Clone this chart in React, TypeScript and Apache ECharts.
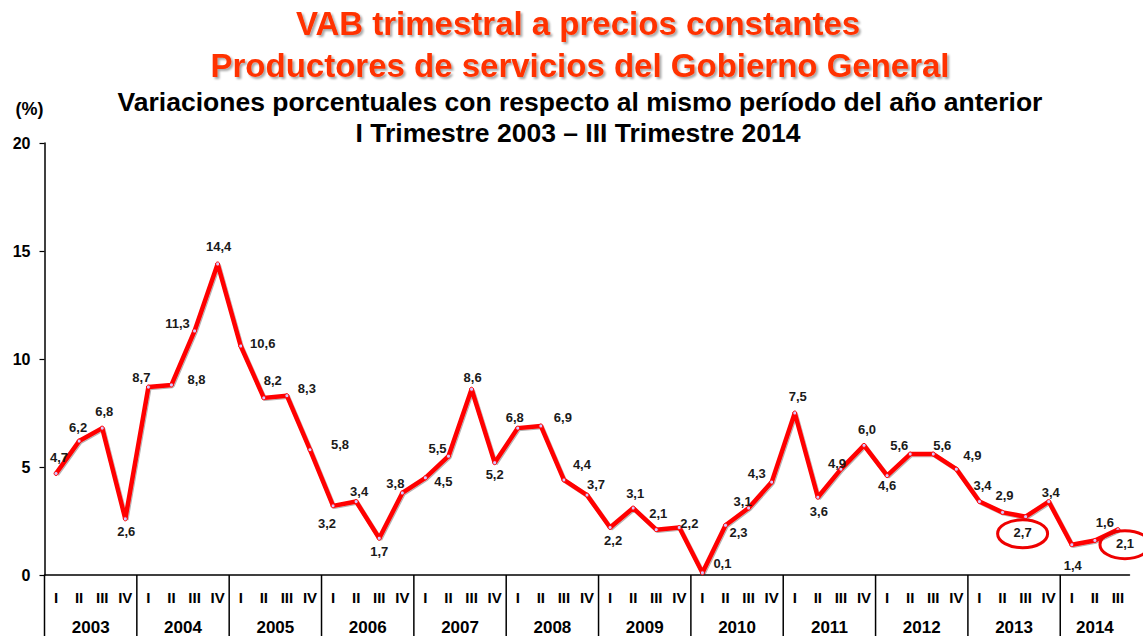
import React, { useEffect, useRef } from "react";
import * as echarts from "echarts";

const years = ["2003", "2004", "2005", "2006", "2007", "2008", "2009", "2010", "2011", "2012", "2013", "2014"];
const quarterNames = ["I", "II", "III", "IV"];
const values = [
  4.7, 6.2, 6.8, 2.6,
  8.7, 8.8, 11.3, 14.4,
  10.6, 8.2, 8.3, 5.8,
  3.2, 3.4, 1.7, 3.8,
  4.5, 5.5, 8.6, 5.2,
  6.8, 6.9, 4.4, 3.7,
  2.2, 3.1, 2.1, 2.2,
  0.1, 2.3, 3.1, 4.3,
  7.5, 3.6, 4.9, 6.0,
  4.6, 5.6, 5.6, 4.9,
  3.4, 2.9, 2.7, 3.4,
  1.4, 1.6, 2.1,
];
const yTicks = [0, 5, 10, 15, 20];
const highlighted = [42, 46];

// label offsets (style only): [dx, dy] of label centre from point
const labelOffsets: [number, number][] = [
  [3, -16], [-1, -14], [2, -17], [1, 13],
  [-7, -10], [25, -5], [-17, -7], [1, -17],
  [22, -3], [9, -17], [20, -7], [30, -5],
  [-6, 18], [3, -10], [0, 13], [-7, -9],
  [18, 4], [-11, -8], [1, -12], [0, 12],
  [-3, -11], [22, -8], [18, -15], [9, -11],
  [3, 13], [2, -15], [2, -16], [10, -4],
  [20, -9], [13, 7], [-6, -7], [-15, -9],
  [3, -17], [1, 14], [-4, -6], [3, -16],
  [0, 10], [-11, -9], [9, -9], [16, -14],
  [3, -16], [2, -17], [-3, 16], [2, -9],
  [1, 21], [10, -18], [7, 14],
];

const FONT = "Arial, 'Liberation Sans', sans-serif";
const fmt = (v: number) => v.toFixed(1).replace(".", ",");

export default function App() {
  const ref = useRef<HTMLDivElement>(null);
  useEffect(() => {
    document.body.style.margin = "0";
    if (!ref.current) return;
    const chart = echarts.init(ref.current, undefined, { renderer: "svg" });
    const categories = values.map((_, i) => quarterNames[i % 4]);
    const option: any = {
      animation: false,
      backgroundColor: "#ffffff",
      grid: { left: 44.5, right: 13.5, top: 143, bottom: 61, containLabel: false },
      xAxis: {
        type: "category",
        data: categories,
        boundaryGap: true,
        axisLine: { lineStyle: { color: "#000", width: 1.5 } },
        axisTick: { inside: true, length: 5, interval: 0, lineStyle: { color: "#000", width: 1.2 } },
        axisLabel: { interval: 0, margin: 15, color: "#000", fontFamily: FONT, fontSize: 15, fontWeight: "bold" },
        splitLine: { show: false },
      },
      yAxis: {
        type: "value",
        min: yTicks[0],
        max: yTicks[yTicks.length - 1],
        interval: yTicks[1] - yTicks[0],
        name: "(%)",
        nameLocation: "end",
        nameGap: 25,
        nameTextStyle: { color: "#000", fontFamily: FONT, fontSize: 18, fontWeight: "bold", align: "right", padding: [0, 1, 0, 0] },
        axisLine: { show: true, lineStyle: { color: "#000", width: 1.5 } },
        axisTick: { show: true, inside: false, length: 5, lineStyle: { color: "#000", width: 1.2 } },
        axisLabel: { margin: 14, color: "#000", fontFamily: FONT, fontSize: 16, fontWeight: "bold" },
        splitLine: { show: false },
      },
      series: [
        {
          type: "line",
          data: values.map((v, i) => ({
            value: v,
            label: {
              show: true,
              position: "inside",
              offset: labelOffsets[i],
              formatter: fmt(v),
            },
          })),
          lineStyle: { color: "#ff0000", width: 4.5, shadowColor: "rgba(0,0,0,0.3)", shadowOffsetX: 1, shadowOffsetY: 1, shadowBlur: 1 },
          itemStyle: { color: "#d8c8ff", borderColor: "#ff0000", borderWidth: 1 },
          symbol: "circle",
          symbolSize: 4,
          showSymbol: true,
          label: { color: "#1a1a1a", fontFamily: FONT, fontSize: 13, fontWeight: "bold" },
          z: 3,
        },
      ],
    };
    chart.setOption(option);

    const titleStyle = (text: string, size: number, fill: string, shadow: boolean) => ({
      text,
      fill,
      font: `bold ${size}px ${FONT}`,
      align: "center",
      verticalAlign: "middle",
      textAlign: "center",
      textVerticalAlign: "middle",
      ...(shadow
        ? { textShadowColor: "rgba(0,0,0,0.35)", textShadowBlur: 2, textShadowOffsetX: 2, textShadowOffsetY: 2 }
        : {}),
    });

    const graphics: any[] = [
      { type: "text", x: 578, y: 23, style: titleStyle("VAB trimestral a precios constantes", 33, "#ff3300", true) },
      { type: "text", x: 580, y: 65, style: titleStyle("Productores de servicios del Gobierno General", 33, "#ff3300", true) },
      { type: "text", x: 580, y: 102, style: titleStyle("Variaciones porcentuales con respecto al mismo período del año anterior", 26.5, "#000", false) },
      { type: "text", x: 578, y: 133, style: titleStyle("I Trimestre 2003 – III Trimestre 2014", 26.5, "#000", false) },
    ];

    const x0 = chart.convertToPixel({ xAxisIndex: 0 }, 0) as number;
    const x1 = chart.convertToPixel({ xAxisIndex: 0 }, 1) as number;
    const half = (x1 - x0) / 2;
    const yBase = chart.convertToPixel({ yAxisIndex: 0 }, 0) as number;
    const bottomY = 636;
    years.forEach((yr, k) => {
      const first = k * 4;
      const last = Math.min(first + 3, values.length - 1);
      const xs = chart.convertToPixel({ xAxisIndex: 0 }, first) as number;
      const xe = chart.convertToPixel({ xAxisIndex: 0 }, last) as number;
      graphics.push({
        type: "line",
        shape: { x1: xs - half, y1: yBase, x2: xs - half, y2: bottomY },
        style: { stroke: "#000", lineWidth: 1.5 },
      });
      graphics.push({
        type: "text",
        x: (xs + xe) / 2,
        y: 627,
        style: titleStyle(yr, 17, "#000", false),
      });
    });

    highlighted.forEach((i) => {
      const p = chart.convertToPixel({ xAxisIndex: 0, yAxisIndex: 0 }, [i, values[i]]) as number[];
      graphics.push({
        type: "ellipse",
        shape: { cx: p[0] + labelOffsets[i][0], cy: p[1] + labelOffsets[i][1] + 1, rx: 25, ry: 14 },
        style: { fill: "none", stroke: "#ee0000", lineWidth: 3 },
        z: 10,
      });
    });

    chart.setOption({ graphic: graphics });
    return () => chart.dispose();
  }, []);
  return <div ref={ref} style={{ width: 1143, height: 636 }} />;
}
